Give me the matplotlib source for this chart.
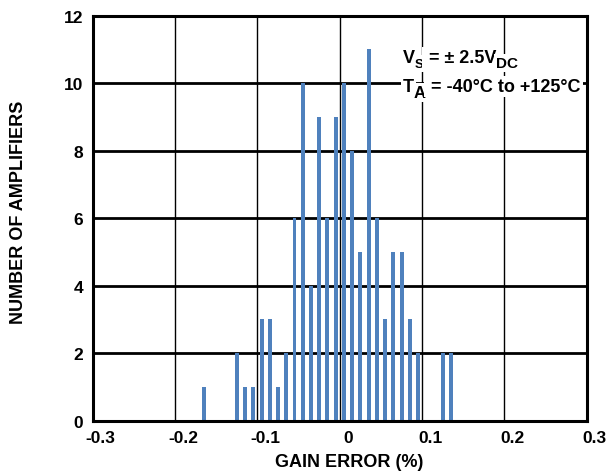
import matplotlib
matplotlib.use("Agg")
import matplotlib.pyplot as plt
import matplotlib.transforms as mtransforms
import numpy as np

plt.rcParams['font.family'] = ['Liberation Sans', 'DejaVu Sans']

# Histogram bin centers (gain error, %) and counts
bin_centers = [-0.165, -0.125, -0.115, -0.105, -0.095, -0.085, -0.075, -0.065,
               -0.055, -0.045, -0.035, -0.025, -0.015, -0.005, 0.005, 0.015,
               0.025, 0.035, 0.045, 0.055, 0.065, 0.075, 0.085, 0.095,
               0.125, 0.135]
counts = [1, 2, 1, 1, 3, 3, 1, 2,
          6, 10, 4, 9, 6, 9, 10, 8,
          5, 11, 6, 3, 5, 5, 3, 2,
          2, 2]
x_ticks = [-0.3, -0.2, -0.1, 0, 0.1, 0.2, 0.3]
x_tick_labels = ['-0.3', '-0.2', '-0.1', '0', '0.1', '0.2', '0.3']
y_ticks = [0, 2, 4, 6, 8, 10, 12]

fig = plt.figure(figsize=(6.1, 4.77), dpi=100)
ax = fig.add_axes([0.152, 0.1159, 0.81, 0.8495])

ax.bar(bin_centers, counts, width=0.0048, color='#4F81BD', zorder=3)

ax.set_xlim(-0.3, 0.3)
ax.set_ylim(0, 12)
ax.set_xticks(x_ticks)
ax.set_xticklabels(x_tick_labels)
ax.set_yticks(y_ticks)

for yv in y_ticks[1:-1]:
    ax.axhline(yv, color='black', lw=2.0, zorder=1)
for xv in x_ticks[1:-1]:
    ax.axvline(xv, color='black', lw=1.0, zorder=1)

for s in ax.spines.values():
    s.set_linewidth(2.2)
    s.set_zorder(4)

ax.tick_params(length=0, labelsize=12.5)
ax.tick_params(axis='x', pad=7)
ax.tick_params(axis='y', pad=7)
for lab in ax.get_xticklabels() + ax.get_yticklabels():
    lab.set_fontweight('bold')
offset = mtransforms.ScaledTranslation(8 / 100, 0, fig.dpi_scale_trans)
for lab in ax.get_xticklabels():
    lab.set_transform(lab.get_transform() + offset)

fig.text(349 / 610, 1 - 463 / 477, 'GAIN ERROR (%)', ha='center', va='center',
         fontsize=13, fontweight='bold')
fig.text(18.5 / 610, 1 - 212.5 / 477, 'NUMBER OF AMPLIFIERS', ha='center', va='center',
         rotation=90, fontsize=13, fontweight='bold')

bbox = dict(facecolor='white', edgecolor='none', pad=1.5)
fs = 13


def piece(prev, s, size, dy):
    return ax.annotate(s, xy=(1, 0), xycoords=prev, xytext=(0, dy),
                       textcoords='offset points', ha='left', va='bottom',
                       fontsize=size, fontweight='bold', bbox=bbox, zorder=5)


t = ax.text(0.0767, 10.62, 'V', ha='left', va='baseline', fontsize=fs,
            fontweight='bold', bbox=bbox, zorder=5)
p = piece(t, 'S', 9.5, -2.5)
p = ax.annotate(' = ± 2.5V', xy=(1, 0), xycoords=p, xytext=(0, 2.5),
                textcoords='offset points', ha='left', va='bottom',
                fontsize=fs, fontweight='bold', bbox=bbox, zorder=5)
# align main text baseline: re-anchor to the first piece
p.xycoords = p.xycoords
p2 = ax.annotate('DC', xy=(1, 0), xycoords=p, xytext=(0, -3),
                 textcoords='offset points', ha='left', va='bottom',
                 fontsize=11, fontweight='bold', bbox=bbox, zorder=5)

t2 = ax.text(0.0767, 9.76, 'T', ha='left', va='baseline', fontsize=fs,
             fontweight='bold', bbox=bbox, zorder=5)
q = piece(t2, 'A', 12, -3.5)
q = ax.annotate(' = -40°C to +125°C', xy=(1, 0), xycoords=q, xytext=(0, 3.5),
                textcoords='offset points', ha='left', va='bottom',
                fontsize=fs, fontweight='bold', bbox=bbox, zorder=5)

fig.savefig('out.png', dpi=100)
